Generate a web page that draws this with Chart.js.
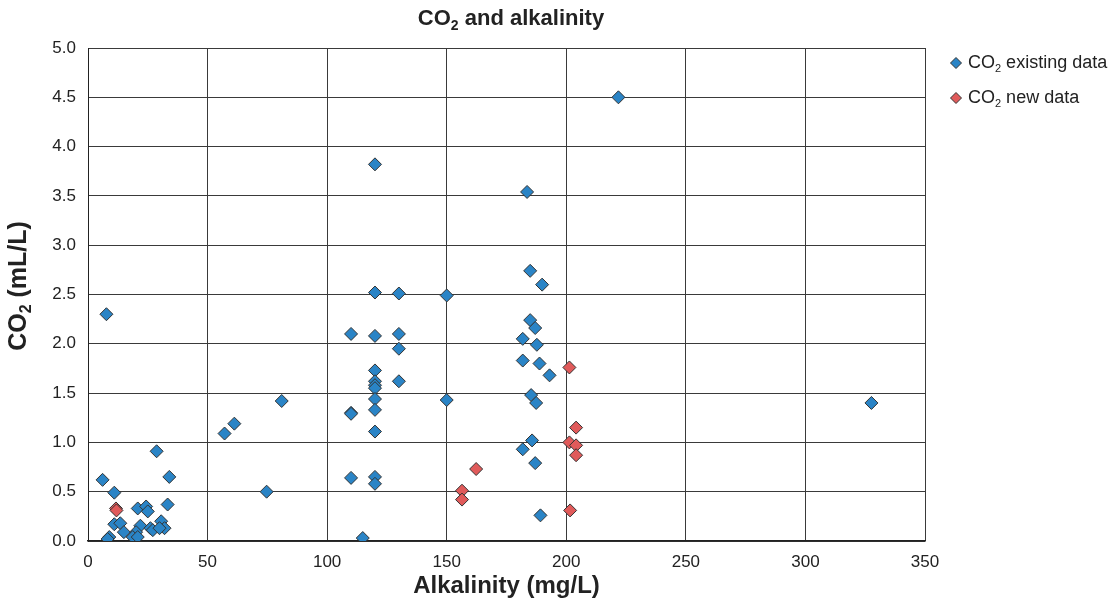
<!doctype html>
<meta charset="utf-8">
<style>
  html, body { margin: 0; padding: 0; background: #fff; }
  #wrap { width: 1120px; height: 609px; }
</style>
<script src="https://cdn.jsdelivr.net/npm/chart.js@4.4.1/dist/chart.umd.min.js"></script>

<div id="wrap"><canvas id="chart"></canvas></div>

<script>
    // values
    const existingAlk = [7.7, 6.1, 11.0, 28.7, 34.0, 20.8, 24.3, 25.0, 33.3, 11.0, 13.5, 15.0, 8.9, 8.2,
        21.9, 20.1, 18.7, 20.8, 26.1, 27.1, 30.6, 32.0, 29.9,
        57.1, 61.2, 74.7, 81.0,
        110, 110, 110, 110, 114.9,
        120, 120, 120, 120, 120, 120, 120, 120, 120, 120, 120, 120,
        130, 130, 130, 130, 150, 150,
        183.6, 184.9, 189.9, 184.9, 187.0, 181.8, 187.7, 181.8, 188.8, 193.0, 185.3, 187.4,
        185.7, 181.8, 187.0, 189.2, 221.8, 327.6];
    const existingCO2 = [2.30, 0.62, 0.49, 0.91, 0.65, 0.33, 0.35, 0.30, 0.37, 0.17, 0.18, 0.09, 0.04, 0.02,
        0.155, 0.09, 0.04, 0.04, 0.13, 0.11, 0.20, 0.13, 0.13,
        1.09, 1.19, 0.50, 1.42,
        2.10, 1.30, 1.29, 0.64, 0.03,
        3.82, 2.52, 2.08, 1.73, 1.62, 1.58, 1.55, 1.44, 1.33, 1.11, 0.65, 0.58,
        2.51, 2.10, 1.95, 1.62, 2.49, 1.43,
        3.54, 2.74, 2.60, 2.24, 2.16, 2.05, 1.99, 1.83, 1.80, 1.68, 1.48, 1.40,
        1.02, 0.93, 0.79, 0.26, 4.50, 1.40];
    const newAlk = [11.7, 11.9, 156.4, 156.4, 162.3, 201.3, 204.1, 201.3, 204.1, 204.1, 201.6];
    const newCO2 = [0.33, 0.31, 0.51, 0.42, 0.73, 1.76, 1.15, 1.00, 0.97, 0.87, 0.31];
    const xTicks = [0, 50, 100, 150, 200, 250, 300, 350];
    const yTicks = [0, 0.5, 1, 1.5, 2, 2.5, 3, 3.5, 4, 4.5, 5];

    // text pieces: [normal, subscript, normal]
    const titleParts = ["CO", "2", " and alkalinity"];
    const yTitleParts = ["CO", "2", " (mL/L)"];
    const seriesParts = [["CO", "2", " existing data"], ["CO", "2", " new data"]];
    const seriesColors = ["#2a84c6", "#e05a5a"];

    const toPoints = (xs, ys) => xs.map((x, i) => ({x, y: ys[i]}));

    const FONT = "'Liberation Sans', Arial, sans-serif";
    Chart.defaults.font.family = FONT;
    Chart.defaults.color = "#222";

    // draws "CO" + subscript "2" + rest, starting at x, vertically centred on y
    function drawSubText(ctx, parts, x, y, size, sub, bold, centre) {
        const w = bold ? "bold " : "";
        const big = w + size + "px " + FONT;
        const small = w + sub + "px " + FONT;
        ctx.font = big;
        const w0 = ctx.measureText(parts[0]).width;
        const w2 = ctx.measureText(parts[2]).width;
        ctx.font = small;
        const w1 = ctx.measureText(parts[1]).width;
        let left = centre ? x - (w0 + w1 + w2) / 2 : x;
        ctx.textBaseline = "middle";
        ctx.textAlign = "left";
        ctx.font = big;
        ctx.fillText(parts[0], left, y);
        ctx.font = small;
        ctx.fillText(parts[1], left + w0, y + size * 0.32);
        ctx.font = big;
        ctx.fillText(parts[2], left + w0 + w1, y);
    }

    const extras = {
        id: "extras",
        afterDraw(chart) {
            const ctx = chart.ctx;
            ctx.save();
            ctx.fillStyle = "#222";
            drawSubText(ctx, titleParts, 511, 19, 22, 14, true, true);

            ctx.save();
            ctx.translate(19, 286);
            ctx.rotate(-Math.PI / 2);
            drawSubText(ctx, yTitleParts, 0, 0, 25, 16, true, true);
            ctx.restore();

            chart.data.datasets.forEach((ds, i) => {
                const y = 63 + i * 35;
                ctx.fillStyle = ds.backgroundColor;
                ctx.strokeStyle = "#333";
                ctx.lineWidth = 1;
                Chart.helpers.drawPoint(ctx, {pointStyle: "rectRot", radius: 5.5, borderWidth: 1}, 956, y);
                ctx.fillStyle = "#222";
                drawSubText(ctx, seriesParts[i], 968, y, 18, 11, false, false);
            });
            ctx.restore();
        }
    };

    new Chart(document.getElementById("chart"), {
        type: "scatter",
        data: {
            datasets: [{
                label: seriesParts[0].join(""),
                data: toPoints(existingAlk, existingCO2),
                backgroundColor: seriesColors[0],
                borderColor: "#333",
                borderWidth: 1,
                pointStyle: "rectRot",
                pointRadius: 6.5,
                pointHoverRadius: 6.5
            }, {
                label: seriesParts[1].join(""),
                data: toPoints(newAlk, newCO2),
                backgroundColor: seriesColors[1],
                borderColor: "#333",
                borderWidth: 1,
                pointStyle: "rectRot",
                pointRadius: 6.5,
                pointHoverRadius: 6.5
            }]
        },
        options: {
            responsive: true,
            maintainAspectRatio: false,
            animation: false,
            layout: {padding: {left: 0, right: 195, top: 48, bottom: 0}},
            plugins: {
                legend: {display: false},
                tooltip: {enabled: false},
                title: {display: false}
            },
            scales: {
                x: {
                    type: "linear",
                    min: 0,
                    max: 350,
                    afterBuildTicks(scale) {
                        scale.ticks = xTicks.map(v => ({value: v}));
                    },
                    afterFit(scale) { scale.height = 68; },
                    grid: {color: "#3a3a3a", drawTicks: false},
                    border: {color: "#222", width: 1.5},
                    ticks: {font: {size: 17}, padding: 11, color: "#222", maxRotation: 0},
                    title: {
                        display: true,
                        text: "Alkalinity (mg/L)",
                        font: {size: 24, weight: "bold"},
                        color: "#222",
                        padding: {top: 0, bottom: 8}
                    }
                },
                y: {
                    type: "linear",
                    min: 0,
                    max: 5,
                    afterBuildTicks(scale) {
                        scale.ticks = yTicks.map(v => ({value: v}));
                    },
                    afterFit(scale) { scale.width = 88; },
                    grid: {color: "#3a3a3a", drawTicks: false},
                    border: {color: "#222", width: 1},
                    ticks: {
                        font: {size: 17},
                        padding: 12,
                        color: "#222",
                        callback: v => v.toFixed(1)
                    },
                    title: {display: false}
                }
            }
        },
        plugins: [extras]
    });
</script>
